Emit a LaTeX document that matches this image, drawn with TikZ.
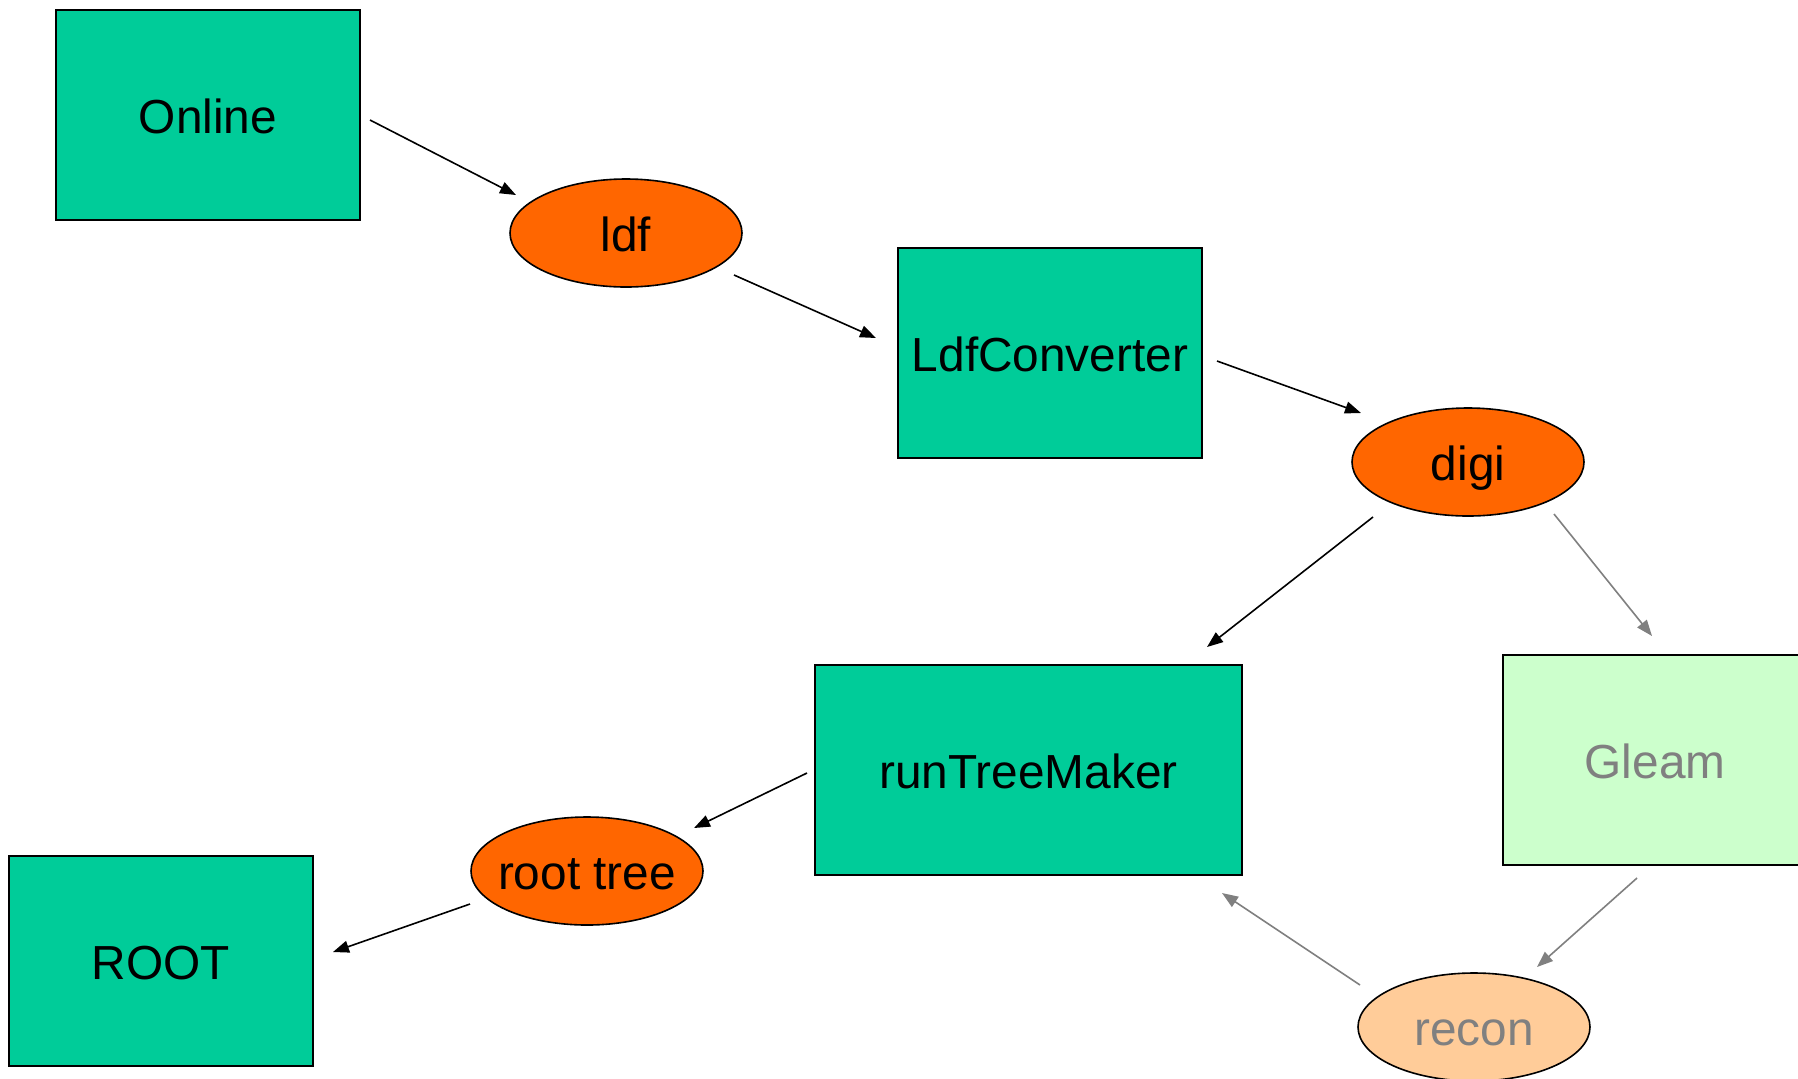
\documentclass[tikz,border=0pt]{standalone}
\usepackage{fontspec}
\setmainfont{Liberation Sans}
\usetikzlibrary{shapes.geometric,arrows.meta,calc}
\definecolor{teal}{HTML}{00CC99}
\definecolor{hotorange}{HTML}{FF6600}
\definecolor{mint}{HTML}{CCFFCC}
\definecolor{peach}{HTML}{FFCC99}
\definecolor{dimgray}{HTML}{808080}
\begin{document}
\begin{tikzpicture}[x=0.5pt,y=-0.5pt,
  every node/.style={font=\fontsize{23.9pt}{28pt}\selectfont, inner sep=0pt,
    text height=22pt, text depth=4pt},
  procbox/.style={rectangle, draw=black, line width=1pt, fill=teal,
    minimum width=152pt, minimum height=105pt},
  databox/.style={ellipse, draw=black, line width=0.8pt, fill=hotorange,
    inner xsep=-12pt, minimum width=116pt, minimum height=54pt},
  optbox/.style={procbox, fill=mint, text=dimgray},
  optdata/.style={databox, fill=peach, text=dimgray},
  arr/.style={line width=0.8pt, -{Triangle[length=8pt,width=6pt]}},
  optarr/.style={arr, draw=dimgray, fill=dimgray}]
\clip (0,0) rectangle (1798,1078);
\useasboundingbox (0,0) rectangle (1798,1078);
\fill[white] (0,0) rectangle (1798,1078);

% processing steps and data products
\node[procbox] (online)   at (208,115)   {Online};
\node[databox] (ldf)      at (626,233)   {ldf};
\node[procbox] (ldfconv)  at (1050,353)  {LdfConverter};
\node[databox] (digi)     at (1468,462)  {digi};
\node[procbox, minimum width=213.5pt] (runtree) at (1028.5,770) {runTreeMaker};
\node[optbox]  (gleam)    at (1655,760)  {Gleam};
\node[optdata] (recon)    at (1474,1027) {recon};
\node[databox] (roottree) at (587,871)   {root tree};
\node[procbox] (root)     at (161,961)   {ROOT};

% main chain
\draw[arr] ($(online)+(162,5)$)    -- ($(ldf)+(-110,-38)$);
\draw[arr] ($(ldf)+(108,42)$)      -- ($(ldfconv)+(-174,-15)$);
\draw[arr] ($(ldfconv)+(167,8)$)   -- ($(digi)+(-107,-49)$);
\draw[arr] ($(digi)+(-95,55)$)     -- ($(runtree)+(178.5,-123)$);
\draw[arr] ($(runtree)+(-221.5,3)$) -- ($(roottree)+(107,-43)$);
\draw[arr] ($(roottree)+(-117,33)$) -- ($(root)+(172,-9)$);

% reconstruction branch
\draw[optarr] ($(digi)+(86,52)$)    -- ($(gleam)+(-3,-124)$);
\draw[optarr] ($(gleam)+(-18,118)$) -- ($(recon)+(63,-60)$);
\draw[optarr] ($(recon)+(-114,-42)$) -- ($(runtree)+(193.5,123)$);
\end{tikzpicture}
\end{document}
